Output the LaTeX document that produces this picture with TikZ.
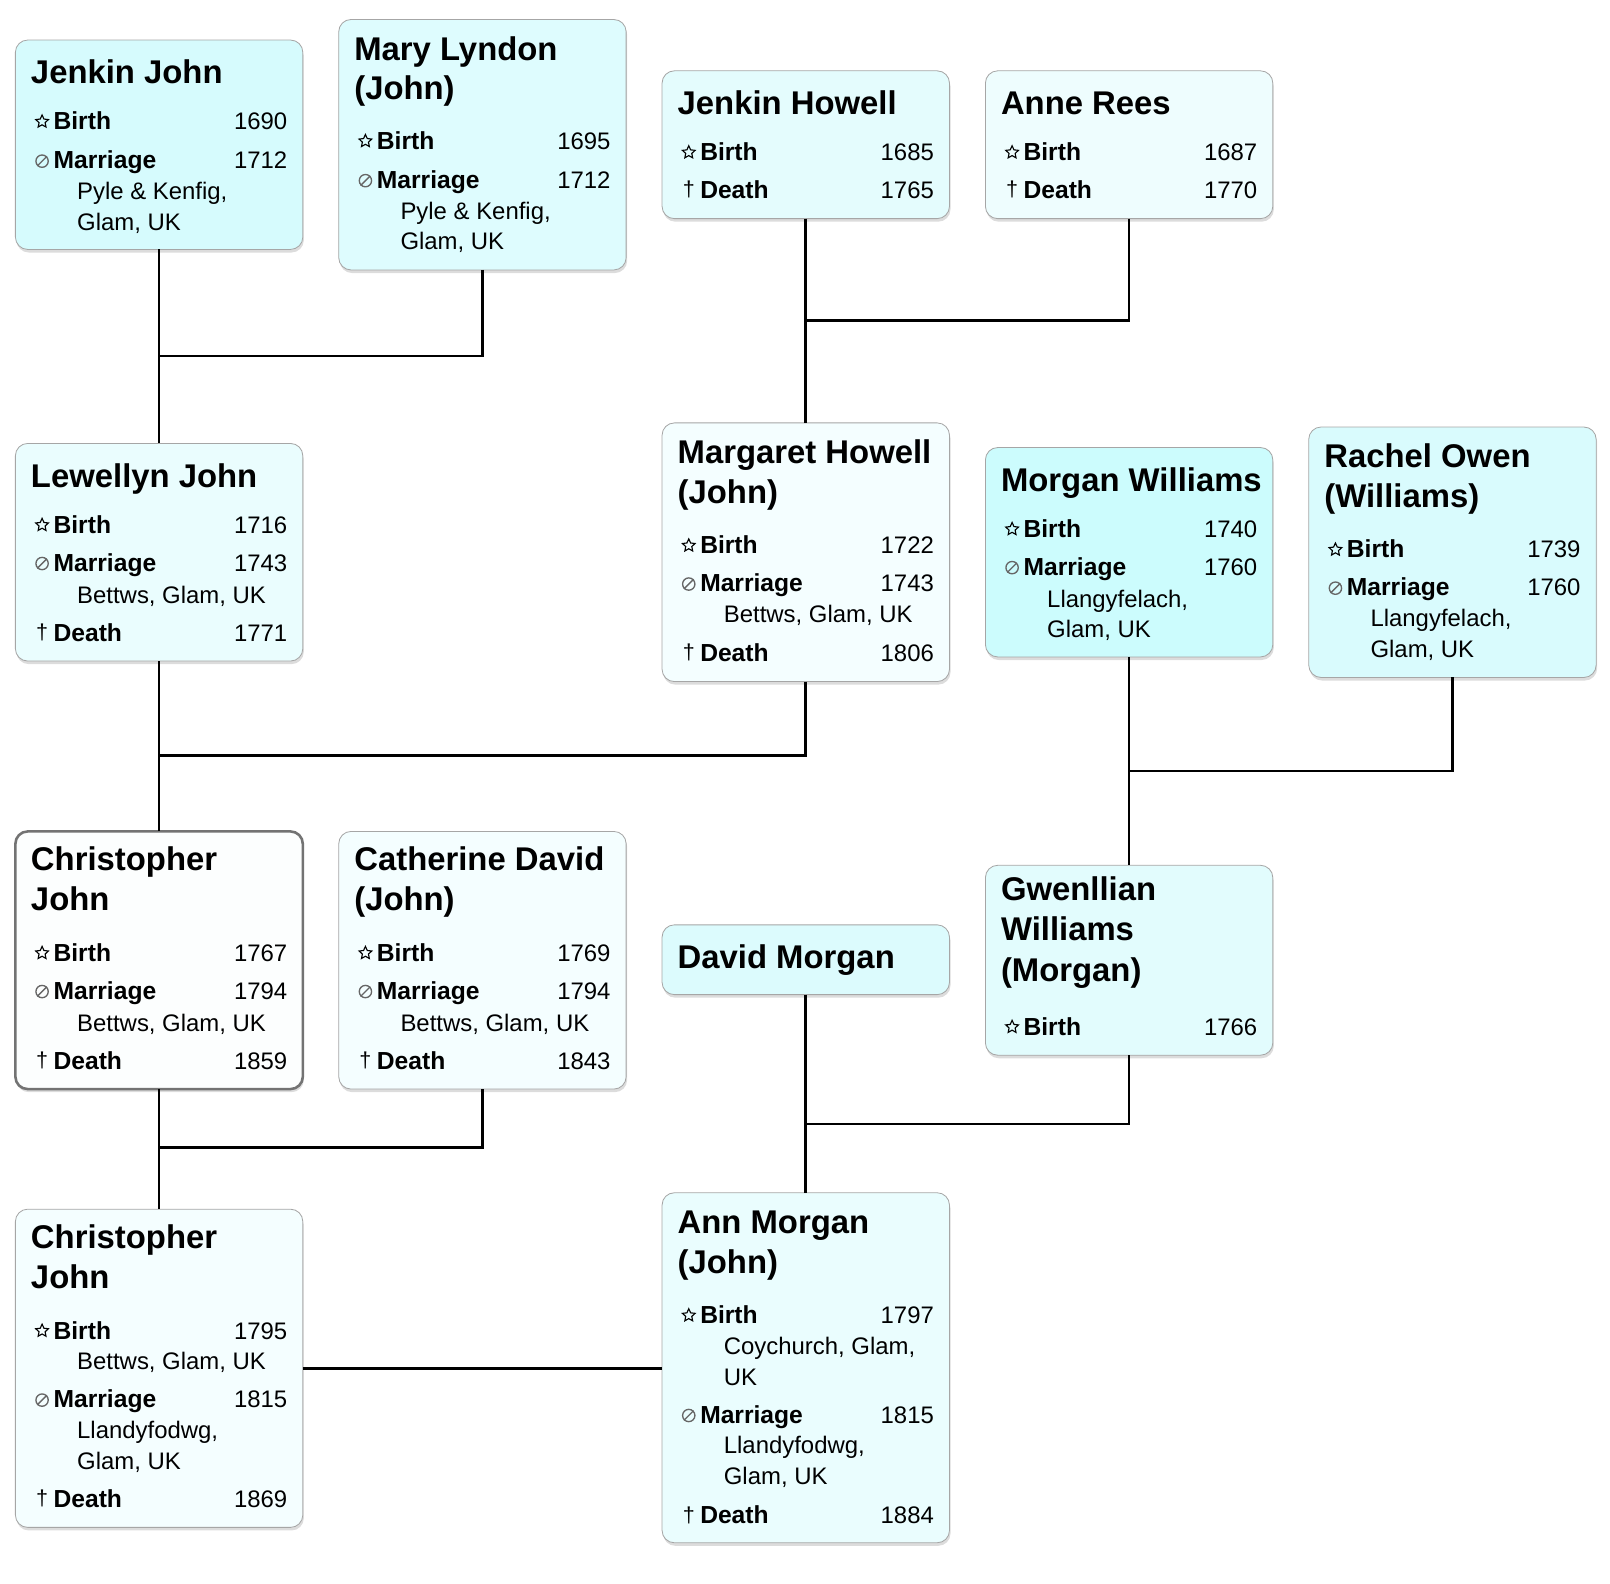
\documentclass[tikz,border=0pt]{standalone}
\usepackage{fontspec}
\setmainfont{Liberation Sans}
\usetikzlibrary{shadows,shapes.geometric}
\definecolor{cA}{RGB}{214,251,253}
\definecolor{cB}{RGB}{222,252,254}
\definecolor{cC}{RGB}{228,252,253}
\definecolor{cD}{RGB}{238,253,254}
\definecolor{cE}{RGB}{234,253,254}
\definecolor{cF}{RGB}{244,254,255}
\definecolor{cG}{RGB}{204,252,253}
\definecolor{cH}{RGB}{217,251,253}
\definecolor{cI}{RGB}{252,254,254}
\definecolor{cJ}{RGB}{220,251,253}
\definecolor{cK}{RGB}{226,252,253}
\tikzset{
 pbox/.style={draw=black!35, line width=0.8pt, rounded corners=12pt, outer sep=0pt, inner sep=0pt,
   minimum width=280pt, anchor=north west,
   drop shadow={opacity=0.28, shadow xshift=1pt, shadow yshift=-3pt}},
 ttlst/.style={anchor=base west, inner sep=0pt, font=\fontsize{32}{32}\selectfont\bfseries},
 lblst/.style={anchor=base west, inner sep=0pt, font=\fontsize{24}{24}\selectfont\bfseries},
 yrst/.style={anchor=base east, inner sep=0pt, font=\fontsize{23.3}{23.3}\selectfont},
 plst/.style={anchor=base west, inner sep=0pt, font=\fontsize{23.3}{23.3}\selectfont},
 staricon/.style={star, star points=5, star point ratio=2.1, draw=black, line width=1.1pt,
   minimum size=13pt, inner sep=0pt},
 marricon/.style={circle, draw=black!60, line width=1.3pt, minimum size=12pt, inner sep=0pt},
 icost/.style={inner sep=0pt},
 link/.style={line width=2.5pt, black}
}
\newcounter{tn}
\newcommand\pBox[6][]{\node[pbox,#1, fill=#6, minimum height=#5pt] (#2) at (#3,#4) {};}
\newcommand\pTitle[3]{\stepcounter{tn}\node[ttlst] (t\arabic{tn}) at (#1+15,#2+11.5) {#3};}
\newcommand\pRow[4]{\stepcounter{tn}\node[lblst] (l\arabic{tn}) at (#1+37,#2+8.5) {#3};
  \node[yrst] (y\arabic{tn}) at (#1+265,#2+8.5) {#4};}
\newcommand\pBirth[3]{\node[staricon] (i\arabic{tn}b) at (#1+26,#2+0.5) {};\pRow{#1}{#2}{Birth}{#3}}
\newcommand\pMarr[3]{\node[marricon] (i\arabic{tn}m) at (#1+26,#2+1) {};
  \draw[black!60, line width=1.3pt] (i\arabic{tn}m.south west) -- (i\arabic{tn}m.north east);
  \pRow{#1}{#2}{Marriage}{#3}}
\newcommand\pDeath[3]{\node[icost] (i\arabic{tn}d) at (#1+26,#2) {\fontsize{21}{21}\selectfont †};\pRow{#1}{#2}{Death}{#3}}
\newcommand\pPlace[3]{\stepcounter{tn}\node[plst] (p\arabic{tn}) at (#1+60,#2+8.5) {#3};}
\begin{document}
\begin{tikzpicture}[x=1pt,y=-1pt]
\useasboundingbox (0,0) rectangle (1568.5,1543.1);
% boxes
\pBox{jj}{15}{39}{204}{cA}
\pBox{ml}{330}{19}{244}{cB}
\pBox{jh}{645}{69}{144}{cC}
\pBox{ar}{960}{69}{144}{cD}
\pBox{lj}{15}{432}{212}{cE}
\pBox{mh}{645}{412}{252}{cF}
\pBox{mw}{960}{436}{204}{cG}
\pBox{ro}{1275}{416}{244}{cH}
\pBox[draw=black!55, line width=2.5pt]{cj}{15}{810}{251}{cI}
\pBox{cd}{330}{810}{251}{cF}
\pBox{dm}{645}{901}{68}{cJ}
\pBox{gw}{960}{843}{185}{cK}
\pBox{cjb}{15}{1178}{310}{cF}
\pBox{am}{645}{1162}{341}{cE}
% connectors
\coordinate (m1) at (155,347);
\coordinate (m2) at (785,312);
\coordinate (m3) at (155,736);
\coordinate (m4) at (1100,751);
\coordinate (m5) at (155,1118);
\coordinate (m6) at (785,1095);
\draw[link] (jj.south) -- (lj.north);
\draw[link] (ml.south) |- (m1);
\draw[link] (jh.south) -- (mh.north);
\draw[link] (ar.south) |- (m2);
\draw[link] (lj.south) -- (cj.north);
\draw[link] (mh.south) |- (m3);
\draw[link] (mw.south) -- (gw.north);
\draw[link] (ro.south) |- (m4);
\draw[link] (cj.south) -- (cjb.north);
\draw[link] (cd.south) |- (m5);
\draw[link] (dm.south) -- (am.north);
\draw[link] (gw.south) |- (m6);
\draw[link] (cjb.east) -- (cjb.east -| am.west);
% Jenkin John
\pTitle{15}{70}{Jenkin John}
\pBirth{15}{118}{1690}
\pMarr{15}{156}{1712}
\pPlace{15}{186}{Pyle \& Kenfig,}
\pPlace{15}{216}{Glam, UK}
% Mary Lyndon
\pTitle{330}{47}{Mary Lyndon}
\pTitle{330}{85}{(John)}
\pBirth{330}{137}{1695}
\pMarr{330}{175}{1712}
\pPlace{330}{205}{Pyle \& Kenfig,}
\pPlace{330}{235}{Glam, UK}
% Jenkin Howell
\pTitle{645}{100}{Jenkin Howell}
\pBirth{645}{148}{1685}
\pDeath{645}{185}{1765}
% Anne Rees
\pTitle{960}{100}{Anne Rees}
\pBirth{960}{148}{1687}
\pDeath{960}{185}{1770}
% Lewellyn John
\pTitle{15}{463}{Lewellyn John}
\pBirth{15}{511}{1716}
\pMarr{15}{548}{1743}
\pPlace{15}{579}{Bettws, Glam, UK}
\pDeath{15}{616}{1771}
% Margaret Howell
\pTitle{645}{440}{Margaret Howell}
\pTitle{645}{479}{(John)}
\pBirth{645}{531}{1722}
\pMarr{645}{568}{1743}
\pPlace{645}{598}{Bettws, Glam, UK}
\pDeath{645}{636}{1806}
% Morgan Williams
\pTitle{960}{467}{Morgan Williams}
\pBirth{960}{515}{1740}
\pMarr{960}{552}{1760}
\pPlace{960}{583}{Llangyfelach,}
\pPlace{960}{613}{Glam, UK}
% Rachel Owen
\pTitle{1275}{444}{Rachel Owen}
\pTitle{1275}{483}{(Williams)}
\pBirth{1275}{535}{1739}
\pMarr{1275}{572}{1760}
\pPlace{1275}{602}{Llangyfelach,}
\pPlace{1275}{632}{Glam, UK}
% Christopher John 1767
\pTitle{15}{837}{Christopher}
\pTitle{15}{876}{John}
\pBirth{15}{928}{1767}
\pMarr{15}{965}{1794}
\pPlace{15}{996}{Bettws, Glam, UK}
\pDeath{15}{1033}{1859}
% Catherine David
\pTitle{330}{837}{Catherine David}
\pTitle{330}{876}{(John)}
\pBirth{330}{928}{1769}
\pMarr{330}{965}{1794}
\pPlace{330}{996}{Bettws, Glam, UK}
\pDeath{330}{1033}{1843}
% David Morgan
\pTitle{645}{932}{David Morgan}
% Gwenllian
\pTitle{960}{866}{Gwenllian}
\pTitle{960}{905}{Williams}
\pTitle{960}{945}{(Morgan)}
\pBirth{960}{1000}{1766}
% Christopher John 1795
\pTitle{15}{1205}{Christopher}
\pTitle{15}{1244}{John}
\pBirth{15}{1296}{1795}
\pPlace{15}{1326}{Bettws, Glam, UK}
\pMarr{15}{1363}{1815}
\pPlace{15}{1393}{Llandyfodwg,}
\pPlace{15}{1423}{Glam, UK}
\pDeath{15}{1460}{1869}
% Ann Morgan
\pTitle{645}{1190}{Ann Morgan}
\pTitle{645}{1229}{(John)}
\pBirth{645}{1281}{1797}
\pPlace{645}{1311}{Coychurch, Glam,}
\pPlace{645}{1341}{UK}
\pMarr{645}{1378}{1815}
\pPlace{645}{1408}{Llandyfodwg,}
\pPlace{645}{1438}{Glam, UK}
\pDeath{645}{1476}{1884}
\end{tikzpicture}
\end{document}
